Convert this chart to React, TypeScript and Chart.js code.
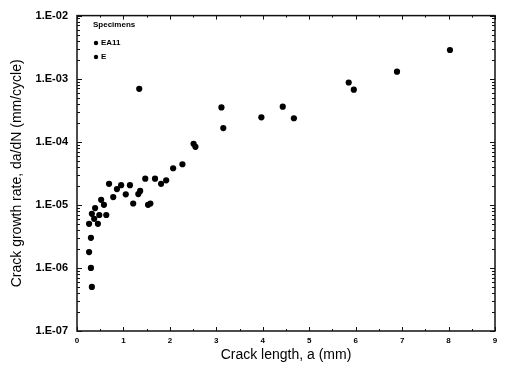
import React, { useEffect, useRef } from 'react';
import { Chart, registerables } from 'chart.js';
Chart.register(...registerables);

const legendTitle = 'Specimens';
const seriesNames = ['EA11', 'E'];

const ea11X = [0.32, 0.30, 0.26, 0.30, 0.26, 0.32, 0.37, 0.39, 0.45, 0.48, 0.52, 0.58, 0.63, 0.69, 0.78, 0.86, 0.95, 1.05, 1.14, 1.21, 1.32, 1.36, 1.53, 1.58, 1.47, 1.68, 1.81, 1.92, 2.07, 2.27, 2.51, 2.55];
const ea11Y = [5.0e-7, 1.0e-6, 1.78e-6, 3.0e-6, 5.0e-6, 7.2e-6, 6.0e-6, 8.9e-6, 5.0e-6, 6.9e-6, 1.2e-5, 1.0e-5, 6.9e-6, 2.15e-5, 1.33e-5, 1.78e-5, 2.05e-5, 1.47e-5, 2.05e-5, 1.05e-5, 1.48e-5, 1.66e-5, 1.0e-5, 1.05e-5, 2.6e-5, 2.6e-5, 2.15e-5, 2.45e-5, 3.8e-5, 4.4e-5, 9.3e-5, 8.3e-5];

const eX = [1.34, 3.11, 3.15, 3.97, 4.43, 4.67, 5.85, 5.96, 6.89, 8.03];
const eY = [6.9e-4, 3.5e-4, 1.65e-4, 2.44e-4, 3.6e-4, 2.36e-4, 8.7e-4, 6.7e-4, 1.29e-3, 2.85e-3];

const xTickValues = [0, 1, 2, 3, 4, 5, 6, 7, 8, 9];
const yExponents = [-7, -6, -5, -4, -3, -2];

const xTitle = 'Crack length, a (mm)';
const yTitle = 'Crack growth rate, da/dN (mm/cycle)';

const fmtY = (v: number) => {
  const e = Math.round(Math.log10(v));
  const a = Math.abs(e);
  return '1.E' + (e < 0 ? '-' : '+') + (a < 10 ? '0' : '') + a;
};

export default function App() {
  const ref = useRef<HTMLCanvasElement>(null);
  useEffect(() => {
    if (!ref.current) return;
    const framePlugin = {
      id: 'frame',
      afterDraw(chart: any) {
        const { ctx, chartArea: a, scales } = chart;
        ctx.save();
        ctx.strokeStyle = '#111';
        ctx.lineWidth = 1.5;
        ctx.strokeRect(a.left, a.top, a.right - a.left, a.bottom - a.top);
        ctx.lineWidth = 1;
        const ys = scales.y;
        for (let e = -7; e <= -2; e++) {
          for (let m = 1; m < 10; m++) {
            const v = m * Math.pow(10, e);
            if (v > 1e-2 * 1.0001) break;
            const p = Math.round(ys.getPixelForValue(v)) + 0.5;
            const len = m === 1 ? 5 : 3;
            ctx.beginPath();
            ctx.moveTo(a.left, p); ctx.lineTo(a.left + len, p);
            ctx.moveTo(a.right, p); ctx.lineTo(a.right - len, p);
            ctx.stroke();
          }
        }
        const xs = scales.x;
        for (let v = 0; v <= 9; v += 0.5) {
          const p = Math.round(xs.getPixelForValue(v)) + 0.5;
          const len = Number.isInteger(v) ? 4 : 2;
          ctx.beginPath();
          ctx.moveTo(p, a.bottom); ctx.lineTo(p, a.bottom - len);
          ctx.moveTo(p, a.top); ctx.lineTo(p, a.top + len);
          ctx.stroke();
        }
        ctx.fillStyle = '#000';
        ctx.font = 'bold 8px "Liberation Sans", Arial, sans-serif';
        ctx.textBaseline = 'middle';
        ctx.textAlign = 'left';
        ctx.fillText(legendTitle, 93, 25);
        chart.data.datasets.forEach((ds: any, i: number) => {
          const y = 43 + i * 14;
          ctx.beginPath();
          ctx.arc(96, y, 2.2, 0, Math.PI * 2);
          ctx.fill();
          ctx.fillText(ds.label, 101, y);
        });
        ctx.restore();
      },
    };

    const mk = (xs: number[], ys: number[]) => xs.map((x, i) => ({ x, y: ys[i] }));
    const chart = new Chart(ref.current, {
      type: 'scatter',
      data: {
        datasets: [
          { label: seriesNames[0], data: mk(ea11X, ea11Y), backgroundColor: '#000', borderColor: '#000', pointRadius: 3.1, pointHoverRadius: 3.1, pointBorderWidth: 0 },
          { label: seriesNames[1], data: mk(eX, eY), backgroundColor: '#000', borderColor: '#000', pointRadius: 3.1, pointHoverRadius: 3.1, pointBorderWidth: 0 },
        ],
      },
      options: {
        animation: false,
        responsive: false,
        devicePixelRatio: 1,
        layout: { padding: { left: 0, right: 10, top: 10, bottom: 0 } },
        plugins: { legend: { display: false }, tooltip: { enabled: false } },
        scales: {
          x: {
            type: 'linear',
            min: 0,
            max: 9,
            afterFit: (s: any) => { s.height = 36; },
            afterBuildTicks: (s: any) => { s.ticks = xTickValues.map((v) => ({ value: v })); },
            grid: { display: false, drawTicks: false },
            border: { display: false },
            ticks: { color: '#000', padding: 5, font: { family: '"Liberation Sans", Arial, sans-serif', size: 8, weight: 'bold' }, maxRotation: 0 },
            title: { display: true, text: xTitle, color: '#000', padding: { top: 0, bottom: 3 }, font: { family: '"Liberation Sans", Arial, sans-serif', size: 14 } },
          },
          y: {
            type: 'logarithmic',
            min: 1e-7,
            max: 1e-2,
            afterFit: (s: any) => { s.width = 77; },
            afterBuildTicks: (s: any) => { s.ticks = yExponents.map((e) => ({ value: Math.pow(10, e) })); },
            grid: { display: false, drawTicks: false },
            border: { display: false },
            ticks: { color: '#000', padding: 9, autoSkip: false, callback: (v: any) => fmtY(Number(v)), font: { family: '"Liberation Sans", Arial, sans-serif', size: 11, weight: 'bold' } },
            title: { display: true, text: yTitle, color: '#000', padding: { top: 9, bottom: 0 }, font: { family: '"Liberation Sans", Arial, sans-serif', size: 14 } },
          },
        },
      },
      plugins: [framePlugin],
    } as any);
    return () => chart.destroy();
  }, []);

  return (
    <div style={{ position: 'fixed', left: 0, top: 0, width: 505, height: 367, background: '#fff' }}>
      <canvas ref={ref} width={505} height={367} style={{ width: 505, height: 367, display: 'block' }} />
    </div>
  );
}
